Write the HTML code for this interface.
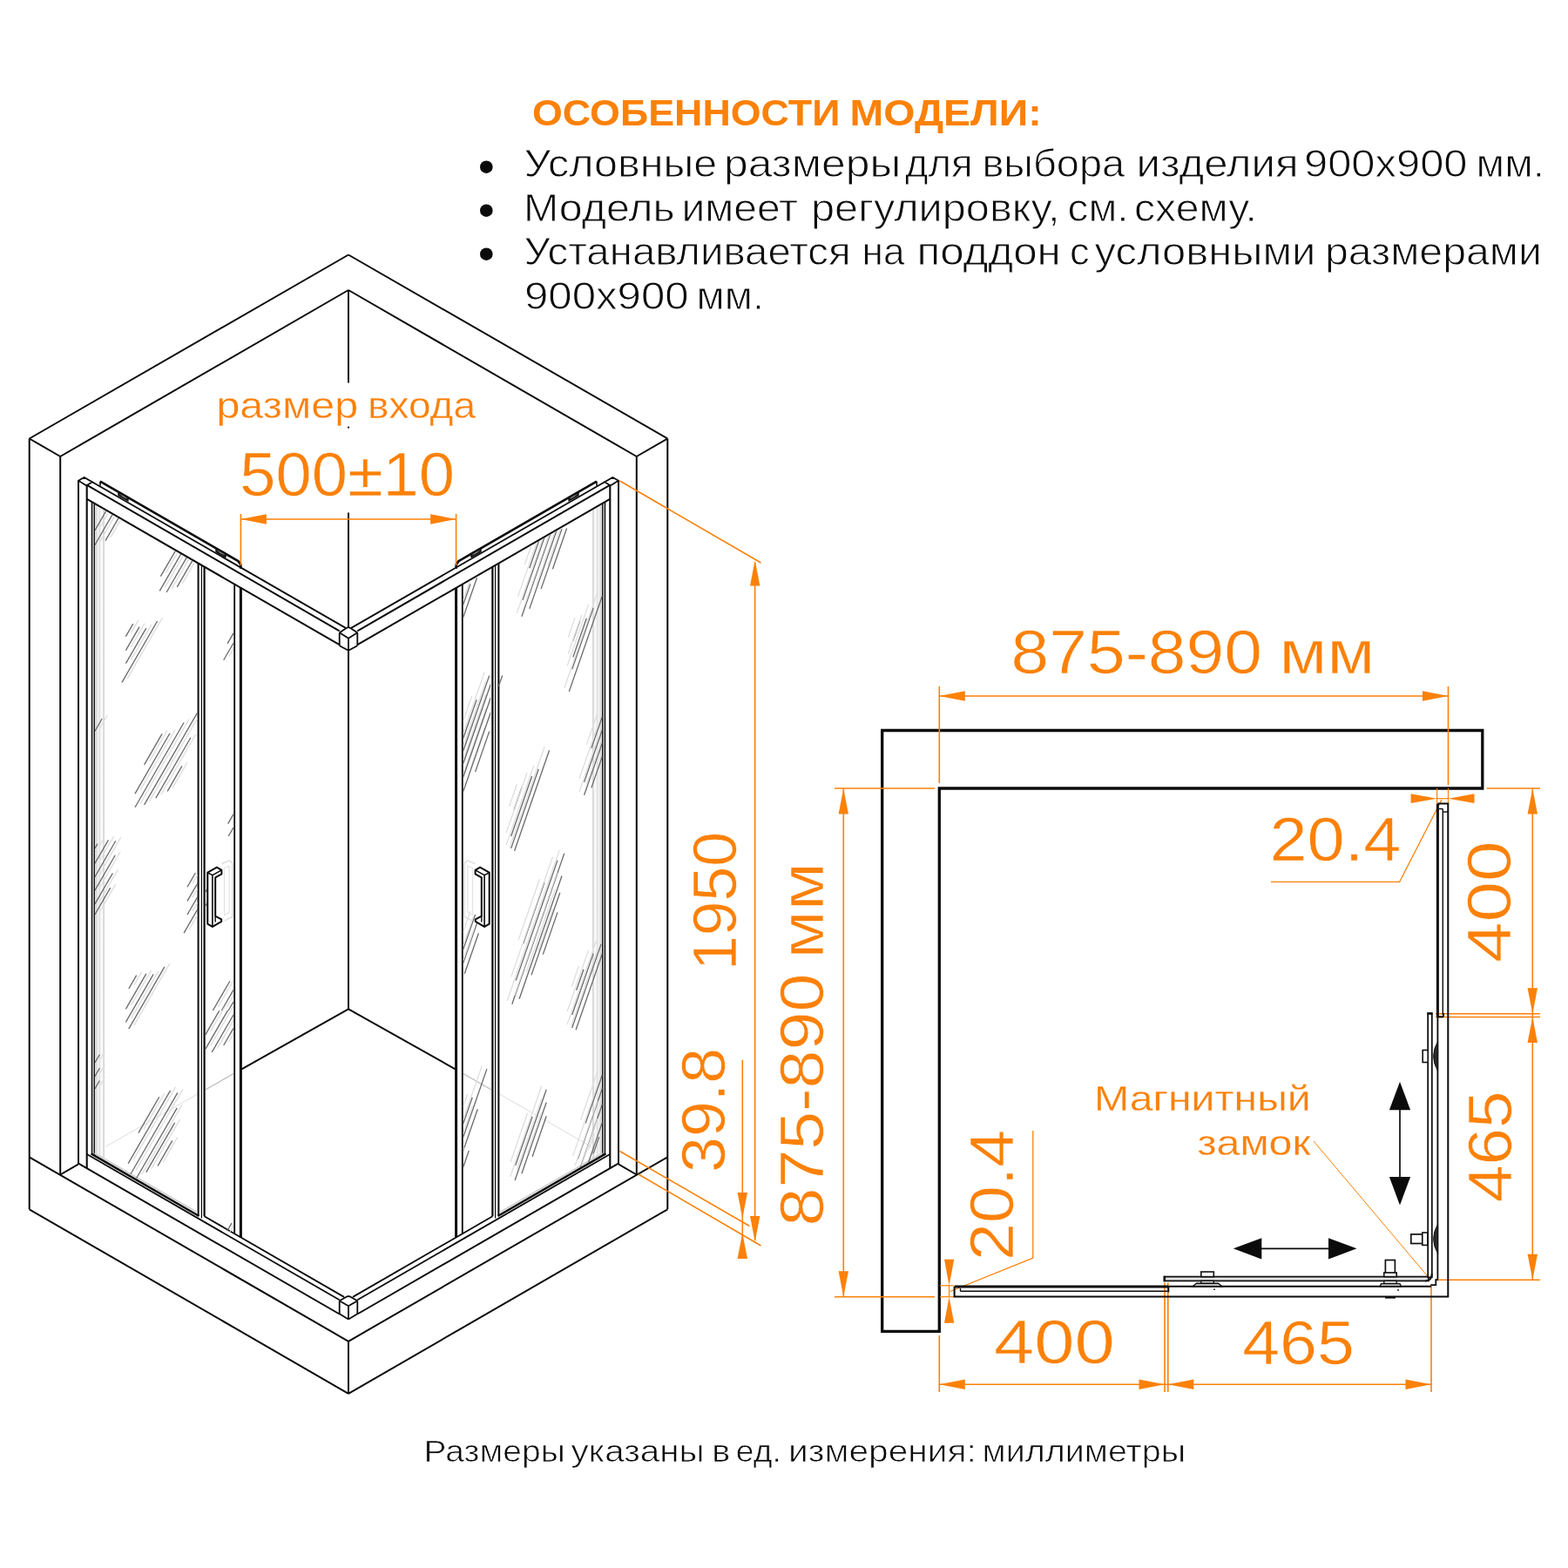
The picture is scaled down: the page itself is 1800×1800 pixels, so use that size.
<!DOCTYPE html>
<html lang="ru"><head><meta charset="utf-8"><title>Схема</title>
<style>
html,body{margin:0;padding:0;background:#fff;}
body{width:1800px;height:1800px;overflow:hidden;}
svg{display:block;font-family:"Liberation Sans",sans-serif;will-change:transform;}
</style></head><body>
<svg width="1800" height="1800" viewBox="0 0 1800 1800">
<rect width="1800" height="1800" fill="#fff"/>
<circle cx="558.3" cy="191.7" r="7.3" fill="#0b0b0b"/>
<circle cx="558.3" cy="241.7" r="7.3" fill="#0b0b0b"/>
<circle cx="558.3" cy="291.7" r="7.3" fill="#0b0b0b"/>
<defs><linearGradient id="gl" x1="0" x2="1" y1="0" y2="0"><stop offset="0" stop-color="#ececec"/><stop offset="0.6" stop-color="#f6f6f6"/><stop offset="1" stop-color="#ffffff"/></linearGradient><linearGradient id="gr" x1="0" x2="1" y1="0" y2="0"><stop offset="0" stop-color="#ffffff"/><stop offset="0.4" stop-color="#f6f6f6"/><stop offset="1" stop-color="#ececec"/></linearGradient></defs>
<polygon points="108.5,579.5 120.5,586.5 120.5,1334 108.5,1327" fill="url(#gl)"/>
<polygon points="691.5,579.5 679.5,586.5 679.5,1334 691.5,1327" fill="url(#gr)"/>
<line x1="33.7" y1="503.5" x2="400.0" y2="292.5" stroke="#0b0b0b" stroke-width="2.0" />
<line x1="69.2" y1="524.0" x2="400.0" y2="333.0" stroke="#0b0b0b" stroke-width="2.0" />
<line x1="33.7" y1="503.5" x2="69.2" y2="524.0" stroke="#0b0b0b" stroke-width="2.0" />
<line x1="33.7" y1="503.5" x2="33.7" y2="1388.3" stroke="#0b0b0b" stroke-width="2.0" />
<line x1="69.2" y1="524.0" x2="69.2" y2="1348.5" stroke="#0b0b0b" stroke-width="2.0" />
<line x1="400.0" y1="1158.3" x2="276.5" y2="1227.8" stroke="#0b0b0b" stroke-width="2.0" />
<line x1="268.5" y1="1232.3" x2="235.8" y2="1251.0" stroke="#bdbdbd" stroke-width="1.3" />
<line x1="226.5" y1="1256.0" x2="121.0" y2="1316.5" stroke="#e6e6e6" stroke-width="1.3" />
<line x1="33.7" y1="1328.3" x2="400.0" y2="1539.8" stroke="#0b0b0b" stroke-width="2.0" />
<line x1="33.7" y1="1388.3" x2="400.0" y2="1599.8" stroke="#0b0b0b" stroke-width="2.0" />
<line x1="69.2" y1="1348.5" x2="89.7" y2="1336.7" stroke="#0b0b0b" stroke-width="2.0" />
<polygon points="90.0,551.7 96.7,548.0 105.8,553.3 99.3,557.4" fill="none" stroke="#0b0b0b" stroke-width="1.8" stroke-linejoin="round" />
<line x1="90.0" y1="551.7" x2="90.0" y2="1336.7" stroke="#0b0b0b" stroke-width="2.0" />
<line x1="99.7" y1="557.4" x2="99.7" y2="1341.1" stroke="#0b0b0b" stroke-width="2.1" />
<line x1="106.9" y1="576.9" x2="106.9" y2="1325.7" stroke="#b0b0b0" stroke-width="3.0" />
<line x1="105.4" y1="576.0" x2="105.4" y2="1324.9" stroke="#151515" stroke-width="1.35" />
<line x1="108.4" y1="577.8" x2="108.4" y2="1326.6" stroke="#151515" stroke-width="1.25" />
<line x1="110.6" y1="579.0" x2="110.6" y2="1325.9" stroke="#d8d8d8" stroke-width="1.6" />
<line x1="114.3" y1="581.2" x2="114.3" y2="1327.0" stroke="#dcdcdc" stroke-width="1.2" />
<line x1="119.1" y1="583.9" x2="119.1" y2="1329.8" stroke="#d6d6d6" stroke-width="1.7" />
<line x1="105.8" y1="553.3" x2="396.8" y2="720.9" stroke="#0b0b0b" stroke-width="1.8" />
<line x1="99.4" y1="556.7" x2="389.7" y2="724.3" stroke="#0b0b0b" stroke-width="2.0" />
<line x1="99.4" y1="572.6" x2="389.7" y2="740.2" stroke="#0b0b0b" stroke-width="2.0" />
<polyline points="389.7,726.3 398.5,720.6 400.0,720.2" fill="none" stroke="#0b0b0b" stroke-width="1.8" stroke-linejoin="round" />
<polyline points="389.7,726.3 400.0,732.8" fill="none" stroke="#0b0b0b" stroke-width="1.8" stroke-linejoin="round" />
<line x1="389.7" y1="726.3" x2="389.7" y2="741.2" stroke="#0b0b0b" stroke-width="1.8" />
<line x1="389.7" y1="741.2" x2="400.0" y2="746.8" stroke="#0b0b0b" stroke-width="1.8" />
<polyline points="115.0,552.6 273.5,644.1 276.3,647.9 276.3,652.8" fill="none" stroke="#0b0b0b" stroke-width="2.7" stroke-linejoin="round" />
<line x1="115.0" y1="552.7" x2="115.0" y2="557.7" stroke="#0b0b0b" stroke-width="1.6" />
<polygon points="136.0,564.8 147.0,571.1 147.0,575.0 136.0,568.7" fill="#3a3a3a" stroke="#0b0b0b" stroke-width="1.4" stroke-linejoin="round" />
<line x1="139.5" y1="568.8" x2="144.5" y2="571.7" stroke="#999" stroke-width="1.0" />
<polygon points="248.0,629.4 259.0,635.7 259.0,639.6 248.0,633.3" fill="#3a3a3a" stroke="#0b0b0b" stroke-width="1.4" stroke-linejoin="round" />
<line x1="251.5" y1="633.4" x2="256.5" y2="636.3" stroke="#999" stroke-width="1.0" />
<line x1="227.6" y1="646.6" x2="227.6" y2="1395.4" stroke="#0b0b0b" stroke-width="2.0" />
<line x1="231.4" y1="648.8" x2="231.4" y2="1398.6" stroke="#0b0b0b" stroke-width="1.2" />
<line x1="234.6" y1="650.6" x2="234.6" y2="1396.3" stroke="#0b0b0b" stroke-width="2.2" />
<line x1="269.2" y1="670.6" x2="269.2" y2="1416.3" stroke="#0b0b0b" stroke-width="1.8" />
<line x1="276.4" y1="674.8" x2="276.4" y2="1420.4" stroke="#0b0b0b" stroke-width="3.0" />
<line x1="104.6" y1="1324.4" x2="228.5" y2="1396.0" stroke="#0b0b0b" stroke-width="2.4" />
<line x1="108.5" y1="1323.7" x2="226.5" y2="1391.8" stroke="#cfcfcf" stroke-width="1.6" />
<line x1="234.6" y1="1396.3" x2="395.0" y2="1488.9" stroke="#0b0b0b" stroke-width="1.8" />
<line x1="99.4" y1="1324.7" x2="389.7" y2="1492.3" stroke="#0b0b0b" stroke-width="1.8" />
<line x1="89.7" y1="1335.3" x2="389.7" y2="1508.5" stroke="#0b0b0b" stroke-width="2.0" />
<polyline points="389.7,1493.3 398.5,1488.3 400.0,1488.0" fill="none" stroke="#0b0b0b" stroke-width="1.8" stroke-linejoin="round" />
<polyline points="389.7,1493.3 400.0,1499.3" fill="none" stroke="#0b0b0b" stroke-width="1.8" stroke-linejoin="round" />
<line x1="389.7" y1="1493.3" x2="389.7" y2="1508.3" stroke="#0b0b0b" stroke-width="1.8" />
<line x1="389.7" y1="1508.3" x2="400.0" y2="1514.5" stroke="#0b0b0b" stroke-width="1.8" />
<line x1="766.3" y1="503.5" x2="400.0" y2="292.5" stroke="#0b0b0b" stroke-width="2.0" />
<line x1="730.8" y1="524.0" x2="400.0" y2="333.0" stroke="#0b0b0b" stroke-width="2.0" />
<line x1="766.3" y1="503.5" x2="730.8" y2="524.0" stroke="#0b0b0b" stroke-width="2.0" />
<line x1="766.3" y1="503.5" x2="766.3" y2="1388.3" stroke="#0b0b0b" stroke-width="2.0" />
<line x1="730.8" y1="524.0" x2="730.8" y2="1348.5" stroke="#0b0b0b" stroke-width="2.0" />
<line x1="400.0" y1="1158.3" x2="523.5" y2="1227.8" stroke="#0b0b0b" stroke-width="2.0" />
<line x1="531.5" y1="1232.3" x2="564.2" y2="1251.0" stroke="#bdbdbd" stroke-width="1.3" />
<line x1="573.5" y1="1256.0" x2="679.0" y2="1316.5" stroke="#e6e6e6" stroke-width="1.3" />
<line x1="766.3" y1="1328.3" x2="400.0" y2="1539.8" stroke="#0b0b0b" stroke-width="2.0" />
<line x1="766.3" y1="1388.3" x2="400.0" y2="1599.8" stroke="#0b0b0b" stroke-width="2.0" />
<line x1="730.8" y1="1348.5" x2="710.3" y2="1336.7" stroke="#0b0b0b" stroke-width="2.0" />
<polygon points="710.0,551.7 703.3,548.0 694.2,553.3 700.7,557.4" fill="none" stroke="#0b0b0b" stroke-width="1.8" stroke-linejoin="round" />
<line x1="710.0" y1="551.7" x2="710.0" y2="1336.7" stroke="#0b0b0b" stroke-width="2.0" />
<line x1="700.3" y1="557.4" x2="700.3" y2="1341.1" stroke="#0b0b0b" stroke-width="2.1" />
<line x1="693.1" y1="576.9" x2="693.1" y2="1325.7" stroke="#b0b0b0" stroke-width="3.0" />
<line x1="694.6" y1="576.0" x2="694.6" y2="1324.9" stroke="#151515" stroke-width="1.35" />
<line x1="691.6" y1="577.8" x2="691.6" y2="1326.6" stroke="#151515" stroke-width="1.25" />
<line x1="689.4" y1="579.0" x2="689.4" y2="1325.9" stroke="#d8d8d8" stroke-width="1.6" />
<line x1="685.7" y1="581.2" x2="685.7" y2="1327.0" stroke="#dcdcdc" stroke-width="1.2" />
<line x1="680.9" y1="583.9" x2="680.9" y2="1329.8" stroke="#d6d6d6" stroke-width="1.7" />
<line x1="694.2" y1="553.3" x2="403.2" y2="720.9" stroke="#0b0b0b" stroke-width="1.8" />
<line x1="700.6" y1="556.7" x2="410.3" y2="724.3" stroke="#0b0b0b" stroke-width="2.0" />
<line x1="700.6" y1="572.6" x2="410.3" y2="740.2" stroke="#0b0b0b" stroke-width="2.0" />
<polyline points="410.3,726.3 401.5,720.6 400.0,720.2" fill="none" stroke="#0b0b0b" stroke-width="1.8" stroke-linejoin="round" />
<polyline points="410.3,726.3 400.0,732.8" fill="none" stroke="#0b0b0b" stroke-width="1.8" stroke-linejoin="round" />
<line x1="410.3" y1="726.3" x2="410.3" y2="741.2" stroke="#0b0b0b" stroke-width="1.8" />
<line x1="410.3" y1="741.2" x2="400.0" y2="746.8" stroke="#0b0b0b" stroke-width="1.8" />
<polyline points="685.0,552.6 526.5,644.1 523.7,647.9 523.7,652.8" fill="none" stroke="#0b0b0b" stroke-width="2.7" stroke-linejoin="round" />
<line x1="685.0" y1="552.7" x2="685.0" y2="557.7" stroke="#0b0b0b" stroke-width="1.6" />
<polygon points="664.0,564.8 653.0,571.1 653.0,575.0 664.0,568.7" fill="#3a3a3a" stroke="#0b0b0b" stroke-width="1.4" stroke-linejoin="round" />
<line x1="660.5" y1="568.8" x2="655.5" y2="571.7" stroke="#999" stroke-width="1.0" />
<polygon points="552.0,629.4 541.0,635.7 541.0,639.6 552.0,633.3" fill="#3a3a3a" stroke="#0b0b0b" stroke-width="1.4" stroke-linejoin="round" />
<line x1="548.5" y1="633.4" x2="543.5" y2="636.3" stroke="#999" stroke-width="1.0" />
<line x1="572.4" y1="646.6" x2="572.4" y2="1395.4" stroke="#0b0b0b" stroke-width="2.0" />
<line x1="568.6" y1="648.8" x2="568.6" y2="1398.6" stroke="#0b0b0b" stroke-width="1.2" />
<line x1="565.4" y1="650.6" x2="565.4" y2="1396.3" stroke="#0b0b0b" stroke-width="2.2" />
<line x1="530.8" y1="670.6" x2="530.8" y2="1416.3" stroke="#0b0b0b" stroke-width="1.8" />
<line x1="523.6" y1="674.8" x2="523.6" y2="1420.4" stroke="#0b0b0b" stroke-width="3.0" />
<line x1="695.4" y1="1324.4" x2="571.5" y2="1396.0" stroke="#0b0b0b" stroke-width="2.4" />
<line x1="691.5" y1="1323.7" x2="573.5" y2="1391.8" stroke="#cfcfcf" stroke-width="1.6" />
<line x1="565.4" y1="1396.3" x2="405.0" y2="1488.9" stroke="#0b0b0b" stroke-width="1.8" />
<line x1="700.6" y1="1324.7" x2="410.3" y2="1492.3" stroke="#0b0b0b" stroke-width="1.8" />
<line x1="710.3" y1="1335.3" x2="410.3" y2="1508.5" stroke="#0b0b0b" stroke-width="2.0" />
<polyline points="410.3,1493.3 401.5,1488.3 400.0,1488.0" fill="none" stroke="#0b0b0b" stroke-width="1.8" stroke-linejoin="round" />
<polyline points="410.3,1493.3 400.0,1499.3" fill="none" stroke="#0b0b0b" stroke-width="1.8" stroke-linejoin="round" />
<line x1="410.3" y1="1493.3" x2="410.3" y2="1508.3" stroke="#0b0b0b" stroke-width="1.8" />
<line x1="410.3" y1="1508.3" x2="400.0" y2="1514.5" stroke="#0b0b0b" stroke-width="1.8" />
<line x1="400.0" y1="333.0" x2="400.0" y2="439.5" stroke="#0b0b0b" stroke-width="2.0" />
<line x1="400.0" y1="588.5" x2="400.0" y2="720.0" stroke="#0b0b0b" stroke-width="2.0" />
<line x1="400.0" y1="732.8" x2="400.0" y2="746.8" stroke="#0b0b0b" stroke-width="1.8" />
<line x1="400.0" y1="746.8" x2="400.0" y2="1158.3" stroke="#0b0b0b" stroke-width="2.0" />
<line x1="400.0" y1="1499.3" x2="400.0" y2="1514.5" stroke="#0b0b0b" stroke-width="1.8" />
<line x1="400.0" y1="1539.8" x2="400.0" y2="1599.8" stroke="#0b0b0b" stroke-width="2.0" />
<circle cx="400" cy="490.7" r="1.1" fill="#0b0b0b"/>
<clipPath id="c109"><polygon points="109.0,579.3 226.8,647.3 226.8,1393.5 109.0,1325.5"/></clipPath>
<g clip-path="url(#c109)">
<line x1="114.9" y1="604.9" x2="128.2" y2="581.9" stroke="#dedede" stroke-width="1.3" />
<line x1="108.9" y1="608.9" x2="122.2" y2="585.9" stroke="#696969" stroke-width="1.3" />
<line x1="114.9" y1="621.6" x2="136.5" y2="584.2" stroke="#dedede" stroke-width="1.3" />
<line x1="108.9" y1="625.6" x2="130.5" y2="588.2" stroke="#696969" stroke-width="1.3" />
<line x1="127.1" y1="616.6" x2="142.5" y2="589.9" stroke="#dedede" stroke-width="1.3" />
<line x1="121.1" y1="620.6" x2="136.5" y2="593.9" stroke="#696969" stroke-width="1.3" />
<line x1="190.4" y1="657.7" x2="207.1" y2="628.8" stroke="#dedede" stroke-width="1.3" />
<line x1="184.4" y1="661.7" x2="201.1" y2="632.8" stroke="#696969" stroke-width="1.3" />
<line x1="189.3" y1="674.3" x2="214.2" y2="631.2" stroke="#dedede" stroke-width="1.3" />
<line x1="183.3" y1="678.3" x2="208.2" y2="635.2" stroke="#696969" stroke-width="1.3" />
<line x1="197.1" y1="676.0" x2="221.2" y2="634.3" stroke="#dedede" stroke-width="1.3" />
<line x1="191.1" y1="680.0" x2="215.2" y2="638.3" stroke="#696969" stroke-width="1.3" />
<line x1="209.3" y1="669.9" x2="226.8" y2="639.6" stroke="#dedede" stroke-width="1.3" />
<line x1="203.3" y1="673.9" x2="221.5" y2="642.4" stroke="#696969" stroke-width="1.3" />
<line x1="150.4" y1="726.6" x2="158.8" y2="712.1" stroke="#dedede" stroke-width="1.3" />
<line x1="144.4" y1="730.6" x2="152.8" y2="716.1" stroke="#696969" stroke-width="1.3" />
<line x1="150.4" y1="742.7" x2="166.0" y2="715.7" stroke="#dedede" stroke-width="1.3" />
<line x1="144.4" y1="746.7" x2="160.0" y2="719.7" stroke="#696969" stroke-width="1.3" />
<line x1="150.4" y1="757.7" x2="173.8" y2="717.2" stroke="#dedede" stroke-width="1.3" />
<line x1="144.4" y1="761.7" x2="167.8" y2="721.2" stroke="#696969" stroke-width="1.3" />
<line x1="146.0" y1="779.3" x2="186.6" y2="709.0" stroke="#dedede" stroke-width="1.3" />
<line x1="140.0" y1="783.3" x2="180.6" y2="713.0" stroke="#696969" stroke-width="1.3" />
<line x1="114.9" y1="835.4" x2="123.2" y2="821.0" stroke="#dedede" stroke-width="1.3" />
<line x1="108.9" y1="839.4" x2="117.2" y2="825.0" stroke="#696969" stroke-width="1.3" />
<line x1="171.6" y1="873.8" x2="192.1" y2="838.3" stroke="#dedede" stroke-width="1.3" />
<line x1="165.6" y1="877.8" x2="186.1" y2="842.3" stroke="#696969" stroke-width="1.3" />
<line x1="161.0" y1="907.1" x2="201.0" y2="837.8" stroke="#dedede" stroke-width="1.3" />
<line x1="155.0" y1="911.1" x2="195.0" y2="841.8" stroke="#696969" stroke-width="1.3" />
<line x1="161.0" y1="922.7" x2="217.1" y2="825.5" stroke="#dedede" stroke-width="1.3" />
<line x1="155.0" y1="926.7" x2="211.1" y2="829.5" stroke="#696969" stroke-width="1.3" />
<line x1="171.6" y1="919.9" x2="226.8" y2="824.3" stroke="#dedede" stroke-width="1.3" />
<line x1="165.6" y1="923.9" x2="226.5" y2="818.4" stroke="#696969" stroke-width="1.3" />
<line x1="184.9" y1="912.1" x2="224.9" y2="842.8" stroke="#dedede" stroke-width="1.3" />
<line x1="178.9" y1="916.1" x2="218.9" y2="846.8" stroke="#696969" stroke-width="1.3" />
<line x1="198.2" y1="904.3" x2="214.9" y2="875.4" stroke="#dedede" stroke-width="1.3" />
<line x1="192.2" y1="908.3" x2="208.9" y2="879.4" stroke="#696969" stroke-width="1.3" />
<line x1="114.9" y1="970.0" x2="118.0" y2="964.6" stroke="#dedede" stroke-width="1.3" />
<line x1="108.9" y1="974.0" x2="112.0" y2="968.6" stroke="#696969" stroke-width="1.3" />
<line x1="114.9" y1="987.1" x2="130.4" y2="960.3" stroke="#dedede" stroke-width="1.3" />
<line x1="108.9" y1="991.1" x2="124.4" y2="964.3" stroke="#696969" stroke-width="1.3" />
<line x1="114.9" y1="1002.7" x2="138.8" y2="961.3" stroke="#dedede" stroke-width="1.3" />
<line x1="108.9" y1="1006.7" x2="132.8" y2="965.3" stroke="#696969" stroke-width="1.3" />
<line x1="114.9" y1="1018.2" x2="138.2" y2="977.8" stroke="#dedede" stroke-width="1.3" />
<line x1="108.9" y1="1022.2" x2="132.2" y2="981.8" stroke="#696969" stroke-width="1.3" />
<line x1="114.9" y1="1033.8" x2="135.4" y2="998.3" stroke="#dedede" stroke-width="1.3" />
<line x1="108.9" y1="1037.8" x2="129.4" y2="1002.3" stroke="#696969" stroke-width="1.3" />
<line x1="114.9" y1="1046.0" x2="132.7" y2="1015.2" stroke="#dedede" stroke-width="1.3" />
<line x1="108.9" y1="1050.0" x2="126.7" y2="1019.2" stroke="#696969" stroke-width="1.3" />
<line x1="221.0" y1="1014.3" x2="226.8" y2="1004.3" stroke="#dedede" stroke-width="1.3" />
<line x1="215.0" y1="1018.3" x2="224.4" y2="1002.0" stroke="#696969" stroke-width="1.3" />
<line x1="221.0" y1="1030.4" x2="226.8" y2="1020.4" stroke="#dedede" stroke-width="1.3" />
<line x1="215.0" y1="1034.4" x2="226.8" y2="1014.0" stroke="#696969" stroke-width="1.3" />
<line x1="221.0" y1="1046.0" x2="226.8" y2="1036.0" stroke="#dedede" stroke-width="1.3" />
<line x1="215.0" y1="1050.0" x2="226.8" y2="1029.6" stroke="#696969" stroke-width="1.3" />
<line x1="217.1" y1="1067.1" x2="226.8" y2="1050.3" stroke="#dedede" stroke-width="1.3" />
<line x1="211.1" y1="1071.1" x2="226.8" y2="1043.9" stroke="#696969" stroke-width="1.3" />
<line x1="153.8" y1="1131.0" x2="162.7" y2="1115.6" stroke="#dedede" stroke-width="1.3" />
<line x1="147.8" y1="1135.0" x2="156.7" y2="1119.6" stroke="#696969" stroke-width="1.3" />
<line x1="150.4" y1="1154.3" x2="173.8" y2="1113.8" stroke="#dedede" stroke-width="1.3" />
<line x1="144.4" y1="1158.3" x2="167.8" y2="1117.8" stroke="#696969" stroke-width="1.3" />
<line x1="150.4" y1="1169.3" x2="182.1" y2="1114.4" stroke="#dedede" stroke-width="1.3" />
<line x1="144.4" y1="1173.3" x2="176.1" y2="1118.4" stroke="#696969" stroke-width="1.3" />
<line x1="153.8" y1="1177.1" x2="194.9" y2="1105.9" stroke="#dedede" stroke-width="1.3" />
<line x1="147.8" y1="1181.1" x2="188.9" y2="1109.9" stroke="#696969" stroke-width="1.3" />
<line x1="114.9" y1="1216.0" x2="120.4" y2="1206.5" stroke="#dedede" stroke-width="1.3" />
<line x1="108.9" y1="1220.0" x2="114.4" y2="1210.5" stroke="#696969" stroke-width="1.3" />
<line x1="114.9" y1="1231.6" x2="120.4" y2="1222.1" stroke="#dedede" stroke-width="1.3" />
<line x1="108.9" y1="1235.6" x2="114.4" y2="1226.1" stroke="#696969" stroke-width="1.3" />
<line x1="114.9" y1="1246.0" x2="120.4" y2="1236.5" stroke="#dedede" stroke-width="1.3" />
<line x1="108.9" y1="1250.0" x2="114.4" y2="1240.5" stroke="#696969" stroke-width="1.3" />
<line x1="164.9" y1="1296.6" x2="188.8" y2="1255.2" stroke="#dedede" stroke-width="1.3" />
<line x1="158.9" y1="1300.6" x2="182.8" y2="1259.2" stroke="#696969" stroke-width="1.3" />
<line x1="153.2" y1="1331.6" x2="201.6" y2="1247.8" stroke="#dedede" stroke-width="1.3" />
<line x1="147.2" y1="1335.6" x2="195.6" y2="1251.8" stroke="#696969" stroke-width="1.3" />
<line x1="156.0" y1="1343.8" x2="209.9" y2="1250.4" stroke="#dedede" stroke-width="1.3" />
<line x1="150.0" y1="1347.8" x2="203.9" y2="1254.4" stroke="#696969" stroke-width="1.3" />
<line x1="162.7" y1="1348.5" x2="209.3" y2="1267.8" stroke="#dedede" stroke-width="1.3" />
<line x1="156.7" y1="1352.5" x2="203.3" y2="1271.8" stroke="#696969" stroke-width="1.3" />
<line x1="173.8" y1="1341.6" x2="206.6" y2="1284.8" stroke="#dedede" stroke-width="1.3" />
<line x1="167.8" y1="1345.6" x2="200.6" y2="1288.8" stroke="#696969" stroke-width="1.3" />
<line x1="187.1" y1="1334.3" x2="203.8" y2="1305.4" stroke="#dedede" stroke-width="1.3" />
<line x1="181.1" y1="1338.3" x2="197.8" y2="1309.4" stroke="#696969" stroke-width="1.3" />
</g>
<clipPath id="c235"><polygon points="235.8,652.5 268.0,671.1 268.0,1417.3 235.8,1398.7"/></clipPath>
<g clip-path="url(#c235)">
<line x1="261.1" y1="738.9" x2="268.0" y2="726.9" stroke="#696969" stroke-width="1.3" />
<line x1="262.7" y1="753.8" x2="268.0" y2="744.6" stroke="#dedede" stroke-width="1.3" />
<line x1="256.7" y1="757.8" x2="268.0" y2="738.2" stroke="#696969" stroke-width="1.3" />
<line x1="261.7" y1="945.6" x2="268.0" y2="934.7" stroke="#696969" stroke-width="1.3" />
<line x1="262.2" y1="960.0" x2="268.0" y2="950.0" stroke="#696969" stroke-width="1.3" />
<line x1="241.8" y1="1020.0" x2="246.0" y2="1012.7" stroke="#dedede" stroke-width="1.3" />
<line x1="235.8" y1="1024.0" x2="240.0" y2="1016.7" stroke="#696969" stroke-width="1.3" />
<line x1="241.8" y1="1036.0" x2="246.0" y2="1028.7" stroke="#dedede" stroke-width="1.3" />
<line x1="235.8" y1="1040.0" x2="240.0" y2="1032.7" stroke="#696969" stroke-width="1.3" />
<line x1="250.4" y1="1156.0" x2="268.0" y2="1125.5" stroke="#dedede" stroke-width="1.3" />
<line x1="244.4" y1="1160.0" x2="263.9" y2="1126.2" stroke="#696969" stroke-width="1.3" />
<line x1="260.4" y1="1156.0" x2="268.0" y2="1142.8" stroke="#dedede" stroke-width="1.3" />
<line x1="254.4" y1="1160.0" x2="268.0" y2="1136.4" stroke="#696969" stroke-width="1.3" />
<line x1="262.2" y1="1160.0" x2="268.0" y2="1150.0" stroke="#696969" stroke-width="1.3" />
<line x1="241.8" y1="1183.8" x2="257.7" y2="1156.3" stroke="#dedede" stroke-width="1.3" />
<line x1="235.8" y1="1187.8" x2="251.7" y2="1160.3" stroke="#696969" stroke-width="1.3" />
<line x1="241.8" y1="1200.4" x2="267.5" y2="1155.9" stroke="#dedede" stroke-width="1.3" />
<line x1="235.8" y1="1204.4" x2="261.5" y2="1159.9" stroke="#696969" stroke-width="1.3" />
<line x1="249.3" y1="1203.8" x2="268.0" y2="1171.4" stroke="#dedede" stroke-width="1.3" />
<line x1="243.3" y1="1207.8" x2="268.0" y2="1165.0" stroke="#696969" stroke-width="1.3" />
<line x1="262.7" y1="1196.0" x2="268.0" y2="1186.8" stroke="#dedede" stroke-width="1.3" />
<line x1="256.7" y1="1200.0" x2="268.0" y2="1180.4" stroke="#696969" stroke-width="1.3" />
<line x1="264.0" y1="1414.0" x2="268.0" y2="1407.1" stroke="#dedede" stroke-width="1.3" />
<line x1="258.0" y1="1418.0" x2="266.0" y2="1404.1" stroke="#696969" stroke-width="1.3" />
</g>
<clipPath id="c531"><polygon points="531.7,671.3 563.3,653.0 563.3,1399.2 531.7,1417.4"/></clipPath>
<g clip-path="url(#c531)">
<line x1="531.7" y1="674.5" x2="534.5" y2="666.4" stroke="#dedede" stroke-width="1.3" />
<line x1="531.7" y1="694.4" x2="540.0" y2="670.4" stroke="#696969" stroke-width="1.3" />
<line x1="531.7" y1="689.0" x2="542.0" y2="659.3" stroke="#dedede" stroke-width="1.3" />
<line x1="531.7" y1="708.9" x2="547.5" y2="663.3" stroke="#696969" stroke-width="1.3" />
<line x1="540.1" y1="882.1" x2="556.2" y2="835.6" stroke="#dedede" stroke-width="1.3" />
<line x1="545.6" y1="886.1" x2="561.7" y2="839.6" stroke="#696969" stroke-width="1.3" />
<line x1="531.7" y1="889.0" x2="557.8" y2="813.7" stroke="#dedede" stroke-width="1.3" />
<line x1="531.7" y1="908.9" x2="563.3" y2="817.7" stroke="#696969" stroke-width="1.3" />
<line x1="531.7" y1="872.3" x2="557.8" y2="797.0" stroke="#dedede" stroke-width="1.3" />
<line x1="531.7" y1="892.2" x2="563.3" y2="801.0" stroke="#696969" stroke-width="1.3" />
<line x1="531.7" y1="856.8" x2="557.8" y2="781.5" stroke="#dedede" stroke-width="1.3" />
<line x1="531.7" y1="876.7" x2="563.3" y2="785.5" stroke="#696969" stroke-width="1.3" />
<line x1="531.7" y1="842.3" x2="556.2" y2="771.6" stroke="#dedede" stroke-width="1.3" />
<line x1="531.7" y1="862.2" x2="561.7" y2="775.6" stroke="#696969" stroke-width="1.3" />
<line x1="531.7" y1="827.9" x2="541.7" y2="799.1" stroke="#dedede" stroke-width="1.3" />
<line x1="531.7" y1="847.8" x2="547.2" y2="803.1" stroke="#696969" stroke-width="1.3" />
<line x1="531.7" y1="1070.1" x2="540.1" y2="1045.9" stroke="#dedede" stroke-width="1.3" />
<line x1="531.7" y1="1090.0" x2="545.6" y2="1049.9" stroke="#696969" stroke-width="1.3" />
<line x1="531.7" y1="1085.7" x2="543.4" y2="1051.9" stroke="#dedede" stroke-width="1.3" />
<line x1="531.7" y1="1105.6" x2="548.9" y2="1055.9" stroke="#696969" stroke-width="1.3" />
<line x1="531.7" y1="1102.5" x2="543.9" y2="1067.3" stroke="#dedede" stroke-width="1.3" />
<line x1="533.3" y1="1117.8" x2="549.4" y2="1071.3" stroke="#696969" stroke-width="1.3" />
<line x1="531.7" y1="1270.1" x2="536.7" y2="1255.7" stroke="#dedede" stroke-width="1.3" />
<line x1="531.7" y1="1290.0" x2="542.2" y2="1259.7" stroke="#696969" stroke-width="1.3" />
<line x1="531.7" y1="1285.7" x2="553.4" y2="1223.1" stroke="#dedede" stroke-width="1.3" />
<line x1="531.7" y1="1305.6" x2="558.9" y2="1227.1" stroke="#696969" stroke-width="1.3" />
<line x1="531.7" y1="1301.2" x2="542.8" y2="1269.2" stroke="#dedede" stroke-width="1.3" />
<line x1="531.7" y1="1321.1" x2="548.3" y2="1273.2" stroke="#696969" stroke-width="1.3" />
<line x1="531.7" y1="1320.1" x2="532.8" y2="1316.9" stroke="#dedede" stroke-width="1.3" />
<line x1="531.7" y1="1340.0" x2="538.3" y2="1320.9" stroke="#696969" stroke-width="1.3" />
</g>
<line x1="572.4" y1="787.8" x2="576.7" y2="775.4" stroke="#696969" stroke-width="1.3" />
<clipPath id="c573"><polygon points="573.0,647.4 691.5,579.0 691.5,1325.2 573.0,1393.6"/></clipPath>
<g clip-path="url(#c573)">
<line x1="602.3" y1="648.2" x2="614.0" y2="614.4" stroke="#dedede" stroke-width="1.3" />
<line x1="607.8" y1="652.2" x2="619.5" y2="618.4" stroke="#696969" stroke-width="1.3" />
<line x1="594.5" y1="684.9" x2="621.5" y2="607.0" stroke="#dedede" stroke-width="1.3" />
<line x1="600.0" y1="688.9" x2="627.0" y2="611.0" stroke="#696969" stroke-width="1.3" />
<line x1="593.4" y1="703.8" x2="627.5" y2="605.4" stroke="#dedede" stroke-width="1.3" />
<line x1="598.9" y1="707.8" x2="633.0" y2="609.4" stroke="#696969" stroke-width="1.3" />
<line x1="602.3" y1="694.9" x2="633.8" y2="604.0" stroke="#dedede" stroke-width="1.3" />
<line x1="607.8" y1="698.9" x2="639.3" y2="608.0" stroke="#696969" stroke-width="1.3" />
<line x1="615.6" y1="672.1" x2="639.5" y2="603.1" stroke="#dedede" stroke-width="1.3" />
<line x1="621.1" y1="676.1" x2="645.0" y2="607.1" stroke="#696969" stroke-width="1.3" />
<line x1="628.9" y1="649.3" x2="645.1" y2="602.5" stroke="#dedede" stroke-width="1.3" />
<line x1="634.4" y1="653.3" x2="650.6" y2="606.5" stroke="#696969" stroke-width="1.3" />
<line x1="652.3" y1="731.6" x2="660.1" y2="709.1" stroke="#dedede" stroke-width="1.3" />
<line x1="657.8" y1="735.6" x2="665.6" y2="713.1" stroke="#696969" stroke-width="1.3" />
<line x1="652.3" y1="750.4" x2="667.8" y2="705.7" stroke="#dedede" stroke-width="1.3" />
<line x1="657.8" y1="754.4" x2="673.3" y2="709.7" stroke="#696969" stroke-width="1.3" />
<line x1="651.2" y1="764.3" x2="675.6" y2="693.9" stroke="#dedede" stroke-width="1.3" />
<line x1="656.7" y1="768.3" x2="681.1" y2="697.9" stroke="#696969" stroke-width="1.3" />
<line x1="647.8" y1="789.9" x2="686.0" y2="679.6" stroke="#dedede" stroke-width="1.3" />
<line x1="653.3" y1="793.9" x2="691.5" y2="683.6" stroke="#696969" stroke-width="1.3" />
<line x1="584.5" y1="926.0" x2="593.4" y2="900.3" stroke="#dedede" stroke-width="1.3" />
<line x1="590.0" y1="930.0" x2="598.9" y2="904.3" stroke="#696969" stroke-width="1.3" />
<line x1="581.2" y1="956.0" x2="605.1" y2="887.0" stroke="#dedede" stroke-width="1.3" />
<line x1="586.7" y1="960.0" x2="610.6" y2="891.0" stroke="#696969" stroke-width="1.3" />
<line x1="581.2" y1="969.9" x2="612.8" y2="878.7" stroke="#dedede" stroke-width="1.3" />
<line x1="586.7" y1="973.9" x2="618.3" y2="882.7" stroke="#696969" stroke-width="1.3" />
<line x1="585.1" y1="972.7" x2="625.1" y2="857.2" stroke="#dedede" stroke-width="1.3" />
<line x1="590.6" y1="976.7" x2="630.6" y2="861.2" stroke="#696969" stroke-width="1.3" />
<line x1="673.4" y1="854.9" x2="686.0" y2="818.5" stroke="#dedede" stroke-width="1.3" />
<line x1="678.9" y1="858.9" x2="691.5" y2="822.5" stroke="#696969" stroke-width="1.3" />
<line x1="665.1" y1="893.8" x2="686.0" y2="833.5" stroke="#dedede" stroke-width="1.3" />
<line x1="670.6" y1="897.8" x2="691.5" y2="837.5" stroke="#696969" stroke-width="1.3" />
<line x1="665.1" y1="908.8" x2="686.0" y2="848.5" stroke="#dedede" stroke-width="1.3" />
<line x1="670.6" y1="912.8" x2="691.5" y2="852.5" stroke="#696969" stroke-width="1.3" />
<line x1="673.4" y1="900.4" x2="686.0" y2="864.0" stroke="#dedede" stroke-width="1.3" />
<line x1="678.9" y1="904.4" x2="691.5" y2="868.0" stroke="#696969" stroke-width="1.3" />
<line x1="595.1" y1="1079.3" x2="619.5" y2="1008.9" stroke="#dedede" stroke-width="1.3" />
<line x1="600.6" y1="1083.3" x2="625.0" y2="1012.9" stroke="#696969" stroke-width="1.3" />
<line x1="586.7" y1="1121.6" x2="634.5" y2="983.6" stroke="#dedede" stroke-width="1.3" />
<line x1="592.2" y1="1125.6" x2="640.0" y2="987.6" stroke="#696969" stroke-width="1.3" />
<line x1="582.3" y1="1148.8" x2="642.3" y2="975.6" stroke="#dedede" stroke-width="1.3" />
<line x1="587.8" y1="1152.8" x2="647.8" y2="979.6" stroke="#696969" stroke-width="1.3" />
<line x1="590.6" y1="1142.7" x2="639.5" y2="1001.5" stroke="#dedede" stroke-width="1.3" />
<line x1="596.1" y1="1146.7" x2="645.0" y2="1005.5" stroke="#696969" stroke-width="1.3" />
<line x1="604.5" y1="1115.4" x2="637.3" y2="1020.7" stroke="#dedede" stroke-width="1.3" />
<line x1="610.0" y1="1119.4" x2="642.8" y2="1024.7" stroke="#696969" stroke-width="1.3" />
<line x1="617.8" y1="1091.6" x2="634.5" y2="1043.4" stroke="#dedede" stroke-width="1.3" />
<line x1="623.3" y1="1095.6" x2="640.0" y2="1047.4" stroke="#696969" stroke-width="1.3" />
<line x1="656.2" y1="1132.7" x2="664.5" y2="1108.7" stroke="#dedede" stroke-width="1.3" />
<line x1="661.7" y1="1136.7" x2="670.0" y2="1112.7" stroke="#696969" stroke-width="1.3" />
<line x1="651.2" y1="1161.0" x2="675.6" y2="1090.6" stroke="#dedede" stroke-width="1.3" />
<line x1="656.7" y1="1165.0" x2="681.1" y2="1094.6" stroke="#696969" stroke-width="1.3" />
<line x1="651.2" y1="1176.0" x2="684.5" y2="1079.9" stroke="#dedede" stroke-width="1.3" />
<line x1="656.7" y1="1180.0" x2="690.0" y2="1083.9" stroke="#696969" stroke-width="1.3" />
<line x1="655.6" y1="1178.2" x2="686.0" y2="1090.4" stroke="#dedede" stroke-width="1.3" />
<line x1="661.1" y1="1182.2" x2="691.5" y2="1094.4" stroke="#696969" stroke-width="1.3" />
<line x1="586.2" y1="1333.8" x2="605.6" y2="1277.8" stroke="#dedede" stroke-width="1.3" />
<line x1="591.7" y1="1337.8" x2="611.1" y2="1281.8" stroke="#696969" stroke-width="1.3" />
<line x1="585.6" y1="1351.0" x2="621.7" y2="1246.8" stroke="#dedede" stroke-width="1.3" />
<line x1="591.1" y1="1355.0" x2="627.2" y2="1250.8" stroke="#696969" stroke-width="1.3" />
<line x1="593.4" y1="1343.2" x2="621.7" y2="1261.5" stroke="#dedede" stroke-width="1.3" />
<line x1="598.9" y1="1347.2" x2="627.2" y2="1265.5" stroke="#696969" stroke-width="1.3" />
<line x1="605.6" y1="1323.8" x2="621.7" y2="1277.3" stroke="#dedede" stroke-width="1.3" />
<line x1="611.1" y1="1327.8" x2="627.2" y2="1281.3" stroke="#696969" stroke-width="1.3" />
<line x1="666.7" y1="1285.4" x2="686.0" y2="1229.7" stroke="#dedede" stroke-width="1.3" />
<line x1="672.2" y1="1289.4" x2="691.5" y2="1233.7" stroke="#696969" stroke-width="1.3" />
<line x1="657.8" y1="1326.6" x2="686.0" y2="1245.2" stroke="#dedede" stroke-width="1.3" />
<line x1="663.3" y1="1330.6" x2="691.5" y2="1249.2" stroke="#696969" stroke-width="1.3" />
<line x1="660.1" y1="1338.2" x2="686.0" y2="1263.4" stroke="#dedede" stroke-width="1.3" />
<line x1="665.6" y1="1342.2" x2="691.5" y2="1267.4" stroke="#696969" stroke-width="1.3" />
<line x1="667.3" y1="1338.2" x2="686.0" y2="1284.2" stroke="#dedede" stroke-width="1.3" />
<line x1="672.8" y1="1342.2" x2="691.5" y2="1288.2" stroke="#696969" stroke-width="1.3" />
<line x1="675.6" y1="1320.4" x2="682.3" y2="1301.1" stroke="#dedede" stroke-width="1.3" />
<line x1="681.1" y1="1324.4" x2="687.8" y2="1305.1" stroke="#696969" stroke-width="1.3" />
</g>
<polyline points="254.6,991.5 263.3,987.8 266.9,991.1 266.9,1052.2 257.8,1057.0" fill="none" stroke="#dcdcdc" stroke-width="1.4" stroke-linejoin="round" />
<polygon points="257.5,996.5 263.2,994.2 263.2,1047.5 257.5,1050.5" fill="none" stroke="#e4e4e4" stroke-width="1.3" stroke-linejoin="round" />
<polygon points="238.3,1001.7 248.9,995.6 254.4,998.9 254.4,1003.3 247.2,1007.4 247.2,1051.7 254.2,1055.3 254.2,1057.8 243.9,1063.9 238.3,1060.6" fill="#fff" stroke="#0b0b0b" stroke-width="2.0" stroke-linejoin="round" />
<polyline points="238.3,1001.7 243.9,1004.6 254.4,998.9" fill="none" stroke="#0b0b0b" stroke-width="1.6" stroke-linejoin="round" />
<line x1="243.9" y1="1004.6" x2="243.9" y2="1063.9" stroke="#0b0b0b" stroke-width="1.6" />
<polyline points="247.2,1051.7 247.2,1058.5" fill="none" stroke="#0b0b0b" stroke-width="1.4" stroke-linejoin="round" />
<polyline points="545.4,991.5 536.7,987.8 533.1,991.1 533.1,1052.2 542.2,1057.0" fill="none" stroke="#dcdcdc" stroke-width="1.4" stroke-linejoin="round" />
<polygon points="542.5,996.5 536.8,994.2 536.8,1047.5 542.5,1050.5" fill="none" stroke="#e4e4e4" stroke-width="1.3" stroke-linejoin="round" />
<polygon points="561.7,1001.7 551.1,995.6 545.6,998.9 545.6,1003.3 552.8,1007.4 552.8,1051.7 545.8,1055.3 545.8,1057.8 556.1,1063.9 561.7,1060.6" fill="#fff" stroke="#0b0b0b" stroke-width="2.0" stroke-linejoin="round" />
<polyline points="561.7,1001.7 556.1,1004.6 545.6,998.9" fill="none" stroke="#0b0b0b" stroke-width="1.6" stroke-linejoin="round" />
<line x1="556.1" y1="1004.6" x2="556.1" y2="1063.9" stroke="#0b0b0b" stroke-width="1.6" />
<polyline points="552.8,1051.7 552.8,1058.5" fill="none" stroke="#0b0b0b" stroke-width="1.4" stroke-linejoin="round" />
<line x1="276.4" y1="596.0" x2="523.6" y2="596.0" stroke="#FB8108" stroke-width="1.6" />
<line x1="276.4" y1="590.0" x2="276.4" y2="649.0" stroke="#FB8108" stroke-width="1.6" />
<line x1="523.6" y1="590.0" x2="523.6" y2="649.0" stroke="#FB8108" stroke-width="1.6" />
<polygon points="276.4,596.0 305.9,590.3 305.9,601.7" fill="#FB8108"/>
<polygon points="523.6,596.0 494.1,601.7 494.1,590.3" fill="#FB8108"/>
<line x1="711.5" y1="552.0" x2="873.5" y2="646.0" stroke="#FB8108" stroke-width="1.6" />
<line x1="711.5" y1="1321.5" x2="860.5" y2="1407.5" stroke="#FB8108" stroke-width="1.6" />
<line x1="733.0" y1="1348.0" x2="873.5" y2="1430.0" stroke="#FB8108" stroke-width="1.6" />
<line x1="866.7" y1="646.0" x2="866.7" y2="1424.0" stroke="#FB8108" stroke-width="1.6" />
<polygon points="866.7,643.0 872.4,672.5 861.0,672.5" fill="#FB8108"/>
<polygon points="866.7,1425.5 861.0,1396.0 872.4,1396.0" fill="#FB8108"/>
<line x1="852.3" y1="1217.0" x2="852.3" y2="1443.0" stroke="#FB8108" stroke-width="1.6" />
<polygon points="852.3,1398.5 846.6,1369.0 858.0,1369.0" fill="#FB8108"/>
<polygon points="852.3,1415.5 858.0,1445.0 846.6,1445.0" fill="#FB8108"/>
<polygon points="1012.7,838.5 1701.8,838.5 1701.8,905.0 1078.3,905.0 1078.3,1528.3 1012.7,1528.3" fill="none" stroke="#0b0b0b" stroke-width="3.3"  stroke-linejoin="miter"/>
<line x1="1078.3" y1="799.0" x2="1662.5" y2="799.0" stroke="#FB8108" stroke-width="1.6" />
<line x1="1078.3" y1="788.0" x2="1078.3" y2="899.0" stroke="#FB8108" stroke-width="1.6" />
<line x1="1662.5" y1="788.0" x2="1662.5" y2="901.0" stroke="#FB8108" stroke-width="1.6" />
<polygon points="1078.3,799.0 1107.8,793.3 1107.8,804.7" fill="#FB8108"/>
<polygon points="1662.5,799.0 1633.0,804.7 1633.0,793.3" fill="#FB8108"/>
<line x1="968.3" y1="905.0" x2="968.3" y2="1488.7" stroke="#FB8108" stroke-width="1.6" />
<line x1="958.0" y1="905.0" x2="1073.0" y2="905.0" stroke="#FB8108" stroke-width="1.6" />
<line x1="958.0" y1="1488.7" x2="1073.0" y2="1488.7" stroke="#FB8108" stroke-width="1.6" />
<polygon points="968.3,905.0 974.0,934.5 962.6,934.5" fill="#FB8108"/>
<polygon points="968.3,1488.7 962.6,1459.2 974.0,1459.2" fill="#FB8108"/>
<line x1="1759.3" y1="905.0" x2="1759.3" y2="1469.0" stroke="#FB8108" stroke-width="1.6" />
<line x1="1706.7" y1="905.0" x2="1768.0" y2="905.0" stroke="#FB8108" stroke-width="1.6" />
<line x1="1648.0" y1="1163.8" x2="1768.0" y2="1163.8" stroke="#FB8108" stroke-width="1.6" />
<line x1="1648.0" y1="1167.5" x2="1768.0" y2="1167.5" stroke="#FB8108" stroke-width="1.6" />
<line x1="1648.0" y1="1469.2" x2="1768.0" y2="1469.2" stroke="#FB8108" stroke-width="1.6" />
<polygon points="1759.3,905.0 1765.0,934.5 1753.6,934.5" fill="#FB8108"/>
<polygon points="1759.3,1163.8 1753.6,1134.3 1765.0,1134.3" fill="#FB8108"/>
<polygon points="1759.3,1167.5 1765.0,1197.0 1753.6,1197.0" fill="#FB8108"/>
<polygon points="1759.3,1469.2 1753.6,1439.7 1765.0,1439.7" fill="#FB8108"/>
<line x1="1078.3" y1="1589.3" x2="1643.0" y2="1589.3" stroke="#FB8108" stroke-width="1.6" />
<line x1="1078.3" y1="1533.0" x2="1078.3" y2="1598.0" stroke="#FB8108" stroke-width="1.6" />
<line x1="1337.0" y1="1472.5" x2="1337.0" y2="1598.0" stroke="#FB8108" stroke-width="1.6" />
<line x1="1340.8" y1="1472.5" x2="1340.8" y2="1598.0" stroke="#FB8108" stroke-width="1.6" />
<line x1="1643.0" y1="1474.0" x2="1643.0" y2="1598.0" stroke="#FB8108" stroke-width="1.6" />
<polygon points="1078.3,1589.3 1107.8,1583.6 1107.8,1595.0" fill="#FB8108"/>
<polygon points="1337.0,1589.3 1307.5,1595.0 1307.5,1583.6" fill="#FB8108"/>
<polygon points="1340.8,1589.3 1370.3,1583.6 1370.3,1595.0" fill="#FB8108"/>
<polygon points="1643.0,1589.3 1613.5,1595.0 1613.5,1583.6" fill="#FB8108"/>
<line x1="1649.6" y1="905.0" x2="1649.6" y2="922.0" stroke="#FB8108" stroke-width="1.2" />
<line x1="1662.5" y1="905.0" x2="1662.5" y2="922.0" stroke="#FB8108" stroke-width="1.2" />
<polygon points="1649.6,916.7 1619.6,922.1 1619.6,911.3" fill="#FB8108"/>
<polygon points="1662.5,916.7 1692.5,911.3 1692.5,922.1" fill="#FB8108"/>
<line x1="1649.6" y1="916.7" x2="1662.5" y2="916.7" stroke="#FB8108" stroke-width="1.2" />
<polyline points="1655.0,918.0 1606.7,1012.3 1459.0,1012.3" fill="none" stroke="#FB8108" stroke-width="1.3" stroke-linejoin="round" />
<line x1="1079.0" y1="1475.8" x2="1095.0" y2="1475.8" stroke="#FB8108" stroke-width="1.2" />
<line x1="1079.0" y1="1488.7" x2="1095.0" y2="1488.7" stroke="#FB8108" stroke-width="1.2" />
<polygon points="1089.6,1475.8 1084.0,1445.8 1095.2,1445.8" fill="#FB8108"/>
<polygon points="1089.6,1488.7 1095.2,1518.7 1084.0,1518.7" fill="#FB8108"/>
<line x1="1089.6" y1="1475.8" x2="1089.6" y2="1488.7" stroke="#FB8108" stroke-width="1.2" />
<polyline points="1090.8,1482.5 1185.8,1444.2 1185.8,1298.0" fill="none" stroke="#FB8108" stroke-width="1.3" stroke-linejoin="round" />
<line x1="1508.0" y1="1310.0" x2="1640.0" y2="1466.5" stroke="#FB8108" stroke-width="1.0" />
<line x1="1607.0" y1="1260.0" x2="1607.0" y2="1365.0" stroke="#0b0b0b" stroke-width="1.7" />
<polygon points="1607.0,1241.7 1619.1,1274.2 1594.9,1274.2" fill="#0b0b0b"/>
<polygon points="1607.0,1383.5 1594.9,1351.0 1619.1,1351.0" fill="#0b0b0b"/>
<line x1="1435.0" y1="1433.3" x2="1540.0" y2="1433.3" stroke="#0b0b0b" stroke-width="1.7" />
<polygon points="1415.8,1433.3 1448.3,1421.2 1448.3,1445.4" fill="#0b0b0b"/>
<polygon points="1557.5,1433.3 1525.0,1445.4 1525.0,1421.2" fill="#0b0b0b"/>
<polyline points="1095.6,1477.0 1095.6,1488.5 1662.3,1488.5 1662.3,922.5 1650.4,922.5" fill="none" stroke="#0b0b0b" stroke-width="2.0"  stroke-linejoin="miter"/>
<line x1="1095.6" y1="1477.0" x2="1341.3" y2="1477.0" stroke="#0b0b0b" stroke-width="3.0" />
<line x1="1102.5" y1="1482.3" x2="1340.0" y2="1482.3" stroke="#0b0b0b" stroke-width="1.4" />
<line x1="1102.5" y1="1479.0" x2="1102.5" y2="1482.3" stroke="#0b0b0b" stroke-width="1.4" />
<line x1="1341.3" y1="1476.5" x2="1341.3" y2="1483.5" stroke="#0b0b0b" stroke-width="2.0" />
<line x1="1341.3" y1="1476.7" x2="1643.0" y2="1476.7" stroke="#0b0b0b" stroke-width="2.0" />
<polyline points="1642.5,1475.2 1648.3,1475.2 1648.3,1469.2 1651.0,1469.2" fill="none" stroke="#0b0b0b" stroke-width="1.8"  stroke-linejoin="miter"/>
<line x1="1650.4" y1="922.5" x2="1650.4" y2="1167.5" stroke="#0b0b0b" stroke-width="3.0" />
<line x1="1656.3" y1="928.5" x2="1656.3" y2="1165.0" stroke="#0b0b0b" stroke-width="1.4" />
<line x1="1652.0" y1="928.5" x2="1656.3" y2="928.5" stroke="#0b0b0b" stroke-width="1.4" />
<line x1="1656.3" y1="932.0" x2="1662.0" y2="932.0" stroke="#0b0b0b" stroke-width="1.4" />
<line x1="1650.0" y1="1167.3" x2="1657.0" y2="1167.3" stroke="#0b0b0b" stroke-width="2.0" />
<line x1="1657.0" y1="1163.0" x2="1657.0" y2="1167.3" stroke="#0b0b0b" stroke-width="2.0" />
<line x1="1650.4" y1="1167.5" x2="1650.4" y2="1468.5" stroke="#0b0b0b" stroke-width="1.8" />
<rect x="1336.8" y="1465.6" width="303" height="4.8" fill="#e4e4e4" stroke="#111" stroke-width="1.8"/>
<rect x="1639.2" y="1163.3" width="4.6" height="303" fill="#fff" stroke="#111" stroke-width="1.8"/>
<path d="M1636,1470.4 Q1643.8,1470.4 1643.8,1462" fill="none" stroke="#111" stroke-width="2"/>
<rect x="1378.8" y="1460" width="14.5" height="5.6" fill="#fff" stroke="#111" stroke-width="1.6"/>
<rect x="1378.8" y="1470.4" width="14.5" height="3" fill="#fff" stroke="#111" stroke-width="1.4"/>
<path d="M1369.0,1476.7 L1373.5,1473.3 L1398.5,1473.3 L1403.0,1476.7 Z" fill="#bbb" stroke="#111" stroke-width="1.4"/>
<circle cx="1394.0" cy="1480.2" r="0.9" fill="#111"/>
<rect x="1590.4" y="1446.5" width="11" height="15" fill="#fff" stroke="#111" stroke-width="1.7"/>
<rect x="1588.8" y="1461" width="14.4" height="4.6" fill="#fff" stroke="#111" stroke-width="1.6"/>
<rect x="1588.8" y="1470.4" width="14.4" height="3" fill="#fff" stroke="#111" stroke-width="1.4"/>
<path d="M1584,1476.7 L1585.5,1473.6 L1607,1473.6 L1608.5,1476.7 Z" fill="#bbb" stroke="#111" stroke-width="1.4"/>
<circle cx="1605" cy="1481" r="0.9" fill="#111"/>
<line x1="1590.0" y1="1489.3" x2="1602.0" y2="1489.3" stroke="#0b0b0b" stroke-width="2.6" />
<rect x="1633.2" y="1205.5" width="6" height="14" fill="#fff" stroke="#111" stroke-width="1.6"/>
<path d="M1650.6,1195.5 Q1640.6,1212.5 1650.6,1229.5 Z" fill="#2a2a2a" stroke="#111" stroke-width="1.0"/>
<rect x="1619.8" y="1416.9" width="13" height="10.6" fill="#fff" stroke="#111" stroke-width="1.7"/>
<rect x="1632.8" y="1415.0" width="6" height="14.4" fill="#fff" stroke="#111" stroke-width="1.6"/>
<path d="M1650.6,1405.2 Q1640.6,1422.2 1650.6,1439.2 Z" fill="#2a2a2a" stroke="#111" stroke-width="1.0"/>
<line x1="1638.5" y1="1163.5" x2="1644.5" y2="1163.5" stroke="#0b0b0b" stroke-width="2.4" />
<line x1="1336.8" y1="1464.8" x2="1336.8" y2="1471.2" stroke="#0b0b0b" stroke-width="2.6" />
<text y="144.2" font-size="42.5" font-weight="700" fill="#FB8108"><tspan x="611.0" textLength="353.4" lengthAdjust="spacingAndGlyphs">ОСОБЕННОСТИ</tspan> <tspan x="975.6" textLength="220.1" lengthAdjust="spacingAndGlyphs">МОДЕЛИ:</tspan></text>
<text y="202.6" font-size="44.6" font-weight="400" fill="#0b0b0b" stroke="#fff" stroke-width="0.9"><tspan x="601.6" textLength="221.5" lengthAdjust="spacingAndGlyphs">Условные</tspan> <tspan x="831.0" textLength="203.2" lengthAdjust="spacingAndGlyphs">размеры</tspan> <tspan x="1039.0" textLength="77.6" lengthAdjust="spacingAndGlyphs">для</tspan> <tspan x="1127.4" textLength="163.7" lengthAdjust="spacingAndGlyphs">выбора</tspan> <tspan x="1304.6" textLength="186.0" lengthAdjust="spacingAndGlyphs">изделия</tspan> <tspan x="1497.0" textLength="187.5" lengthAdjust="spacingAndGlyphs">900х900</tspan> <tspan x="1694.6" textLength="78.3" lengthAdjust="spacingAndGlyphs">мм.</tspan></text>
<text y="253.8" font-size="44.6" font-weight="400" fill="#0b0b0b" stroke="#fff" stroke-width="0.9"><tspan x="601.0" textLength="173.6" lengthAdjust="spacingAndGlyphs">Модель</tspan> <tspan x="782.4" textLength="133.7" lengthAdjust="spacingAndGlyphs">имеет</tspan> <tspan x="931.0" textLength="285.6" lengthAdjust="spacingAndGlyphs">регулировку,</tspan> <tspan x="1225.6" textLength="70.0" lengthAdjust="spacingAndGlyphs">см.</tspan> <tspan x="1302.0" textLength="140.8" lengthAdjust="spacingAndGlyphs">схему.</tspan></text>
<text y="304.0" font-size="44.6" font-weight="400" fill="#0b0b0b" stroke="#fff" stroke-width="0.9"><tspan x="601.6" textLength="375.1" lengthAdjust="spacingAndGlyphs">Устанавливается</tspan> <tspan x="989.6" textLength="49.0" lengthAdjust="spacingAndGlyphs">на</tspan> <tspan x="1052.4" textLength="165.5" lengthAdjust="spacingAndGlyphs">поддон</tspan> <tspan x="1228.0" textLength="22.7" lengthAdjust="spacingAndGlyphs">с</tspan> <tspan x="1256.6" textLength="253.8" lengthAdjust="spacingAndGlyphs">условными</tspan> <tspan x="1521.0" textLength="248.9" lengthAdjust="spacingAndGlyphs">размерами</tspan></text>
<text y="355.4" font-size="44.6" font-weight="400" fill="#0b0b0b" stroke="#fff" stroke-width="0.9"><tspan x="602.0" textLength="188.6" lengthAdjust="spacingAndGlyphs">900х900</tspan> <tspan x="799.6" textLength="77.4" lengthAdjust="spacingAndGlyphs">мм.</tspan></text>
<text y="1678.3" font-size="35" font-weight="400" fill="#0b0b0b" stroke="#fff" stroke-width="0.7"><tspan x="486.6" textLength="162.1" lengthAdjust="spacingAndGlyphs">Размеры</tspan> <tspan x="655.4" textLength="153.2" lengthAdjust="spacingAndGlyphs">указаны</tspan> <tspan x="817.2" textLength="21.0" lengthAdjust="spacingAndGlyphs">в</tspan> <tspan x="844.8" textLength="52.1" lengthAdjust="spacingAndGlyphs">ед.</tspan> <tspan x="905.0" textLength="215.9" lengthAdjust="spacingAndGlyphs">измерения:</tspan> <tspan x="1127.6" textLength="233.4" lengthAdjust="spacingAndGlyphs">миллиметры</tspan></text>
<text y="479.8" font-size="43" font-weight="400" fill="#FB8108" stroke="#fff" stroke-width="0.4"><tspan x="248.4" textLength="162.7" lengthAdjust="spacingAndGlyphs">размер</tspan> <tspan x="422.0" textLength="124.0" lengthAdjust="spacingAndGlyphs">входа</tspan></text>
<text y="1274.6" font-size="40" font-weight="400" fill="#FB8108" stroke="#fff" stroke-width="0.3"><tspan x="1256.0" textLength="248.7" lengthAdjust="spacingAndGlyphs">Магнитный</tspan></text>
<text y="1326.3" font-size="40" font-weight="400" fill="#FB8108" stroke="#fff" stroke-width="0.3"><tspan x="1374.4" textLength="130.2" lengthAdjust="spacingAndGlyphs">замок</tspan></text>
<text y="569.2" font-size="70.6" font-weight="400" fill="#FB8108" stroke="#fff" stroke-width="0.6"><tspan x="275.2" textLength="246.9" lengthAdjust="spacingAndGlyphs">500±10</tspan></text>
<text y="773.3" font-size="70.6" font-weight="400" fill="#FB8108" stroke="#fff" stroke-width="0.6"><tspan x="1160.6" textLength="288.3" lengthAdjust="spacingAndGlyphs">875-890</tspan> <tspan x="1468.6" textLength="109.6" lengthAdjust="spacingAndGlyphs">мм</tspan></text>
<text y="987.9" font-size="70.6" font-weight="400" fill="#FB8108" stroke="#fff" stroke-width="0.6"><tspan x="1457.4" textLength="151.0" lengthAdjust="spacingAndGlyphs">20.4</tspan></text>
<text y="1565.4" font-size="70.6" font-weight="400" fill="#FB8108" stroke="#fff" stroke-width="0.6"><tspan x="1141.0" textLength="138.9" lengthAdjust="spacingAndGlyphs">400</tspan></text>
<text y="1565.9" font-size="70.6" font-weight="400" fill="#FB8108" stroke="#fff" stroke-width="0.6"><tspan x="1426.2" textLength="128.7" lengthAdjust="spacingAndGlyphs">465</tspan></text>
<text transform="translate(845.0,0) rotate(-90)" font-size="70.6" font-weight="400" fill="#FB8108" stroke="#fff" stroke-width="0.6"><tspan x="-1114.0" textLength="159.1" lengthAdjust="spacingAndGlyphs">1950</tspan></text>
<text transform="translate(831.6,0) rotate(-90)" font-size="70.6" font-weight="400" fill="#FB8108" stroke="#fff" stroke-width="0.6"><tspan x="-1346.0" textLength="143.1" lengthAdjust="spacingAndGlyphs">39.8</tspan></text>
<text transform="translate(945.4,0) rotate(-90)" font-size="70.6" font-weight="400" fill="#FB8108" stroke="#fff" stroke-width="0.6"><tspan x="-1407.6" textLength="290.1" lengthAdjust="spacingAndGlyphs">875-890</tspan> <tspan x="-1100.4" textLength="110.3" lengthAdjust="spacingAndGlyphs">мм</tspan></text>
<text transform="translate(1734.0,0) rotate(-90)" font-size="70.6" font-weight="400" fill="#FB8108" stroke="#fff" stroke-width="0.6"><tspan x="-1105.0" textLength="139.5" lengthAdjust="spacingAndGlyphs">400</tspan></text>
<text transform="translate(1734.5,0) rotate(-90)" font-size="70.6" font-weight="400" fill="#FB8108" stroke="#fff" stroke-width="0.6"><tspan x="-1380.0" textLength="127.5" lengthAdjust="spacingAndGlyphs">465</tspan></text>
<text transform="translate(1162.5,0) rotate(-90)" font-size="70.6" font-weight="400" fill="#FB8108" stroke="#fff" stroke-width="0.6"><tspan x="-1447.0" textLength="150.2" lengthAdjust="spacingAndGlyphs">20.4</tspan></text>
</svg>
</body></html>
